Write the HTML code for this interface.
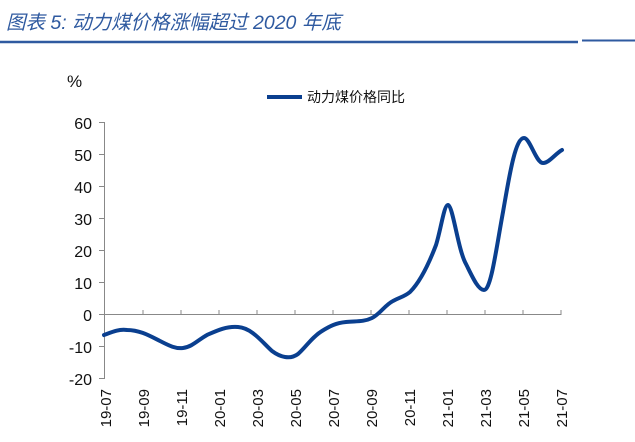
<!DOCTYPE html>
<html><head><meta charset="utf-8"><style>
body{margin:0;background:#fff;}
svg{display:block;font-family:"Liberation Sans","Noto Sans CJK SC",sans-serif;}
</style></head><body>
<svg width="635" height="442" viewBox="0 0 635 442">
<text x="6" y="29" font-size="19.5" font-style="italic" fill="#2f5aa0" font-family="Liberation Sans,'Noto Sans CJK SC',sans-serif">图表 5:  动力煤价格涨幅超过 2020 年底</text>
<line x1="0" y1="42" x2="578" y2="42" stroke="#2f5aa0" stroke-width="2.5"/>
<line x1="582" y1="40.5" x2="635" y2="40.5" stroke="#2f5aa0" stroke-width="2"/>
<text x="67" y="87" font-size="17" fill="#111">%</text>
<line x1="267" y1="97" x2="302" y2="97" stroke="#0a3f8f" stroke-width="4"/>
<text x="307" y="102" font-size="14" fill="#111">动力煤价格同比</text>
<g font-size="16" fill="#111" text-anchor="end">
<text x="92" y="129">60</text><text x="92" y="161">50</text><text x="92" y="193">40</text><text x="92" y="225">30</text><text x="92" y="257">20</text><text x="92" y="289">10</text><text x="92" y="321">0</text><text x="92" y="353">-10</text><text x="92" y="385">-20</text>
</g>
<g stroke="#888" stroke-width="1">
<line x1="104.5" y1="122" x2="104.5" y2="379"/>
<line x1="99" y1="122.5" x2="104" y2="122.5"/><line x1="99" y1="154.5" x2="104" y2="154.5"/><line x1="99" y1="186.5" x2="104" y2="186.5"/><line x1="99" y1="218.5" x2="104" y2="218.5"/><line x1="99" y1="250.5" x2="104" y2="250.5"/><line x1="99" y1="282.5" x2="104" y2="282.5"/><line x1="99" y1="314.5" x2="104" y2="314.5"/><line x1="99" y1="346.5" x2="104" y2="346.5"/><line x1="99" y1="378.5" x2="104" y2="378.5"/>
<line x1="104" y1="314.5" x2="561" y2="314.5"/>
<line x1="143" y1="310" x2="143" y2="315"/><line x1="181" y1="310" x2="181" y2="315"/><line x1="219" y1="310" x2="219" y2="315"/><line x1="257" y1="310" x2="257" y2="315"/><line x1="295" y1="310" x2="295" y2="315"/><line x1="333" y1="310" x2="333" y2="315"/><line x1="371" y1="310" x2="371" y2="315"/><line x1="409" y1="310" x2="409" y2="315"/><line x1="447" y1="310" x2="447" y2="315"/><line x1="485" y1="310" x2="485" y2="315"/><line x1="523" y1="310" x2="523" y2="315"/><line x1="561" y1="310" x2="561" y2="315"/>
</g>
<g font-size="15" fill="#111" text-anchor="end">
<text transform="translate(111,389) rotate(-90)">19-07</text>
<text transform="translate(149,389) rotate(-90)">19-09</text>
<text transform="translate(187,389) rotate(-90)">19-11</text>
<text transform="translate(225,389) rotate(-90)">20-01</text>
<text transform="translate(263,389) rotate(-90)">20-03</text>
<text transform="translate(301,389) rotate(-90)">20-05</text>
<text transform="translate(339,389) rotate(-90)">20-07</text>
<text transform="translate(377,389) rotate(-90)">20-09</text>
<text transform="translate(415,389) rotate(-90)">20-11</text>
<text transform="translate(453,389) rotate(-90)">21-01</text>
<text transform="translate(491,389) rotate(-90)">21-03</text>
<text transform="translate(529,389) rotate(-90)">21-05</text>
<text transform="translate(567,389) rotate(-90)">21-07</text>
</g>
<path d="M104,335 C112,332 118,329 127,330 C140,330 150,336 160,341 C168,345 175,349 183,348 C192,347 198,340 207,335 C216,331 226,326 238,327 C252,328 262,342 272,351 C280,357 290,360 298,354 C306,347 312,337 322,331 C330,326 336,323 346,322 C356,321 364,322 372,318 C380,314 385,305 393,301 C400,297 404,297 410,292 C420,282 428,266 436,245 C441,229 444,205 448,205 C453,206 458,250 466,264 C472,276 478,290 484,290 C491,290 496,250 503,212 C509,178 515,138 524,138 C530,138 536,163 543,163 C549,163 555,154 562,150" fill="none" stroke="#0a3f8f" stroke-width="4" stroke-linecap="round" stroke-linejoin="round"/>
</svg>
</body></html>
